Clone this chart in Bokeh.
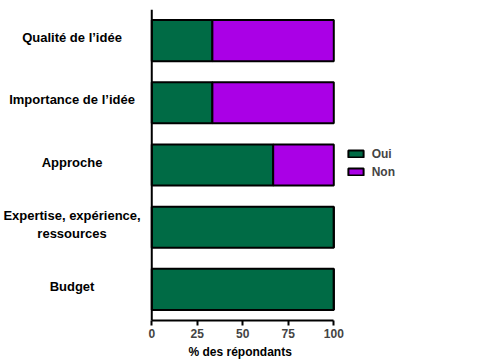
from bokeh.plotting import figure
from bokeh.models import ColumnDataSource, FactorRange, Range1d, FixedTicker, Span, Title
from bokeh.core.properties import value
from bokeh.embed import file_html
from bokeh.resources import INLINE

categories = ["Qualité de l’idée", "Importance de l’idée", "Approche",
              "Expertise, expérience,\nressources", "Budget"]
oui = [33.3, 33.3, 66.7, 100, 100]
non = [66.7, 66.7, 33.3, 0, 0]
series = ["Oui", "Non"]
x_ticks = [0, 25, 50, 75, 100]
x_label = "% des répondants"
label_x = [-43.8] * len(categories)

GREEN = "#006B45"
PURPLE = "#AA00E6"
FONT = "Liberation Sans"

source = ColumnDataSource(dict(cat=categories, Oui=oui, Non=non, lx=label_x))

p = figure(width=470, height=360, output_backend="svg", toolbar_location=None,
           y_range=FactorRange(factors=list(reversed(categories)), range_padding=0),
           x_range=Range1d(-83.1, 175.1),
           min_border_left=0, min_border_right=0, min_border_top=9, min_border_bottom=30)

p.hbar_stack(series, y="cat", height=0.66, source=source,
             fill_color=[GREEN, PURPLE], line_color="black", line_width=2,
             legend_label=series)

p.text(x="lx", y="cat", text="cat", source=source,
       text_align="center", text_baseline="middle", y_offset=-3,
       text_font=value(FONT), text_font_style="bold", text_font_size="13px",
       text_color="black", text_line_height=1.2)

p.grid.visible = False
p.outline_line_color = None
p.yaxis.visible = False

# y axis line at x = 0
p.add_layout(Span(location=0, dimension="height", line_color="black", line_width=2))

# x axis
xa = p.xaxis[0]
xa.ticker = FixedTicker(ticks=x_ticks)
xa.bounds = (0, 100)
xa.major_label_text_font = FONT
xa.major_label_text_font_style = "bold"
xa.major_label_text_font_size = "12px"
xa.major_label_standoff = 3
xa.major_tick_out = 5
xa.major_tick_in = 0
xa.minor_tick_out = 0
xa.minor_tick_in = 0
xa.axis_line_width = 2
xa.major_tick_line_width = 2

# x axis title, under the 0-100 axis
xt = Title(text=x_label, align="left", offset=188, standoff=4,
           text_font=FONT, text_font_style="bold", text_font_size="12px",
           text_color="black")
p.add_layout(xt, "below")

lg = p.legend[0]
lg.location = (345.7, 141.2)
lg.border_line_color = None
lg.background_fill_alpha = 0
lg.padding = 0
lg.margin = 0
lg.spacing = 4
lg.glyph_width = 19
lg.glyph_height = 9
lg.label_height = 14
lg.label_standoff = 7
lg.label_text_font = FONT
lg.label_text_font_style = "bold"
lg.label_text_font_size = "12px"

open("out.html", "w").write(file_html(p, INLINE))
